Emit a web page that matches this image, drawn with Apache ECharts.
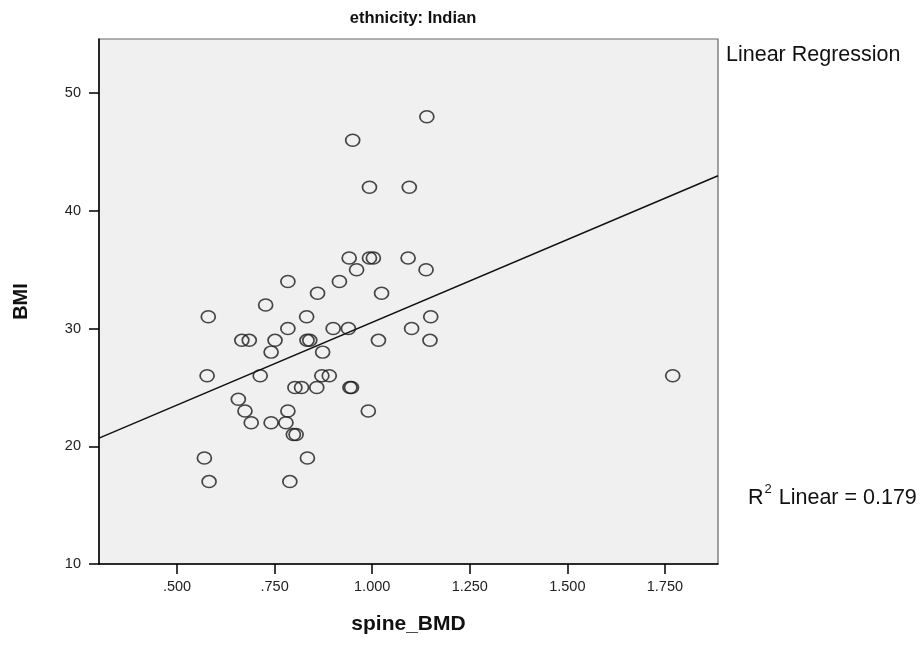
<!DOCTYPE html>
<html>
<head>
<meta charset="utf-8">
<script src="https://cdn.jsdelivr.net/npm/echarts@6/dist/echarts.min.js"></script>
<style>
html,body{margin:0;padding:0;background:#fff;}
#chart{width:924px;height:646px;}
</style>
</head>
<body>
<div id="chart"></div>
<script>
// spine_BMD values
var spineBMD = [
  1.140, 0.950, 0.993, 1.095, 0.941, 0.993, 1.003, 1.092, 0.960, 1.138,
  0.784, 0.916, 0.860, 1.024, 0.727, 0.580, 0.832, 1.150, 0.784, 0.900,
  0.939, 1.101, 0.666, 0.685, 0.751, 0.833, 0.840, 1.016, 1.148, 0.741,
  0.873, 0.577, 0.713, 0.871, 0.890, 1.770, 0.802, 0.819, 0.858, 0.943,
  0.947, 0.657, 0.674, 0.784, 0.990, 0.690, 0.741, 0.779, 0.798, 0.805,
  0.570, 0.834, 0.582, 0.789
];
// BMI values
var bmi = [
  48, 46, 42, 42, 36, 36, 36, 36, 35, 35,
  34, 34, 33, 33, 32, 31, 31, 31, 30, 30,
  30, 30, 29, 29, 29, 29, 29, 29, 29, 28,
  28, 26, 26, 26, 26, 26, 25, 25, 25, 25,
  25, 24, 23, 23, 23, 22, 22, 22, 21, 21,
  19, 19, 17, 17
];
// fitted line: BMI = intercept + slope * spine_BMD
var fitIntercept = 16.48;
var fitSlope = 14.05;
var xRange = [0.30, 1.886];
var yRange = [10, 54.6];
var xTicks = [0.5, 0.75, 1.0, 1.25, 1.5, 1.75];
var xTickLabels = ['.500', '.750', '1.000', '1.250', '1.500', '1.750'];
var yTicks = [10, 20, 30, 40, 50];
var yTickLabels = ['10', '20', '30', '40', '50'];

var points = spineBMD.map(function (x, i) { return [x, bmi[i]]; });
var fitLine = xRange.map(function (x) { return [x, fitIntercept + fitSlope * x]; });

var chart = echarts.init(document.getElementById('chart'), null, {renderer: 'canvas'});
var FONT = '"Liberation Sans", Arial, sans-serif';
chart.setOption({
  backgroundColor: '#ffffff',
  animation: false,
  title: {
    text: 'ethnicity: Indian',
    left: 408, top: 5, textAlign: 'center',
    textStyle: {fontFamily: FONT, fontSize: 16.5, fontWeight: 'bold', color: '#111'}
  },
  grid: {
    left: 99, right: 206, top: 39, bottom: 82,
    containLabel: false, outerBoundsMode: 'none',
    show: true, backgroundColor: '#f0f0f0', borderColor: '#666', borderWidth: 1.2
  },
  graphic: [
    {type: 'text', left: 726, top: 44,
     style: {text: 'Linear Regression', fontFamily: FONT, fontSize: 21.5, fill: '#111'}},
    {type: 'text', left: 748, top: 483,
     style: {
       text: '{n|R}{s|2}{n| Linear = 0.179}',
       rich: {
         n: {fontFamily: FONT, fontSize: 21.5, fill: '#111', verticalAlign: 'bottom', lineHeight: 26},
         s: {fontFamily: FONT, fontSize: 13, fill: '#111', verticalAlign: 'top', lineHeight: 26, padding: [0,1,9,1]}
       }
     }}
  ],
  xAxis: {
    type: 'value', min: xRange[0], max: xRange[1],
    name: 'spine_BMD', nameLocation: 'middle', nameGap: 50,
    nameTextStyle: {fontFamily: FONT, fontSize: 21, fontWeight: 'bold', color: '#111'},
    axisLine: {show: true, onZero: false, lineStyle: {color: '#000', width: 1.5}},
    axisTick: {show: true, length: 10, customValues: xTicks, lineStyle: {color: '#000', width: 1.5}},
    axisLabel: {
      customValues: xTicks, margin: 15,
      fontFamily: FONT, fontSize: 14.5, color: '#222',
      formatter: function (v) {
        var i = xTicks.findIndex(function (t) { return Math.abs(t - v) < 1e-6; });
        return i >= 0 ? xTickLabels[i] : '';
      }
    },
    splitLine: {show: false}
  },
  yAxis: {
    type: 'value', min: yRange[0], max: yRange[1],
    name: 'BMI', nameLocation: 'middle', nameGap: 68, nameRotate: 90,
    nameTextStyle: {fontFamily: FONT, fontSize: 20, fontWeight: 'bold', color: '#111'},
    axisLine: {show: true, onZero: false, lineStyle: {color: '#000', width: 1.5}},
    axisTick: {show: true, length: 10, customValues: yTicks, lineStyle: {color: '#000', width: 1.5}},
    axisLabel: {
      customValues: yTicks, margin: 18,
      fontFamily: FONT, fontSize: 14.5, color: '#222',
      formatter: function (v) {
        var i = yTicks.findIndex(function (t) { return Math.abs(t - v) < 1e-6; });
        return i >= 0 ? yTickLabels[i] : '';
      }
    },
    splitLine: {show: false}
  },
  series: [
    {
      type: 'line', data: fitLine, showSymbol: false, symbol: 'none',
      lineStyle: {color: '#111', width: 1.5}, clip: true, z: 2, silent: true
    },
    {
      type: 'scatter', data: points, symbol: 'circle', symbolSize: [14, 12],
      itemStyle: {color: 'rgba(0,0,0,0)', borderColor: '#1a1a1a', borderWidth: 1.6},
      z: 3, silent: true
    }
  ]
});
</script>
</body>
</html>
